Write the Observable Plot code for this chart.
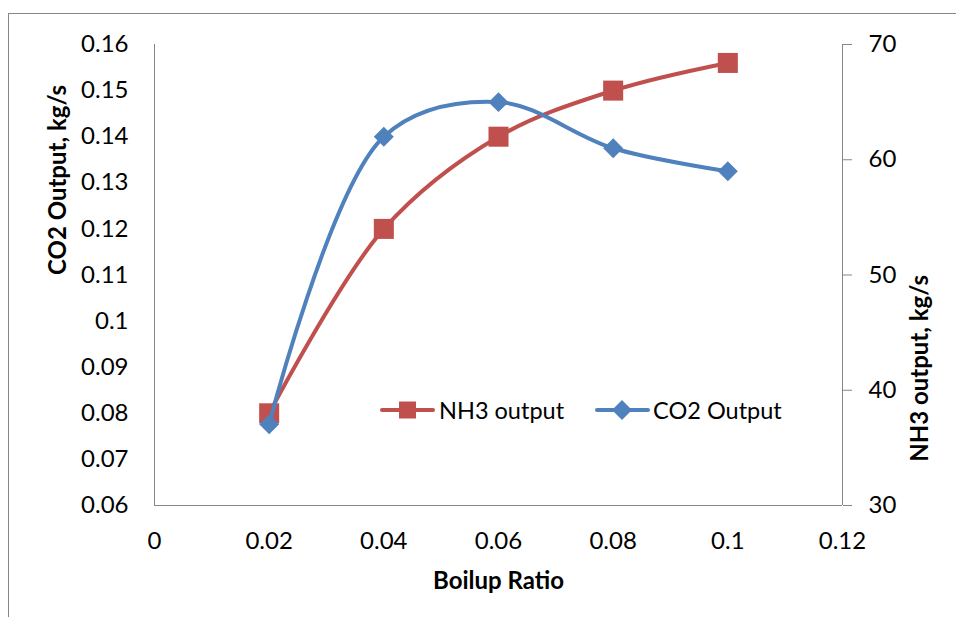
<!DOCTYPE html>
<html>
<head>
<meta charset="utf-8">
<script src="https://cdn.jsdelivr.net/npm/d3@7"></script>
<script src="https://cdn.jsdelivr.net/npm/@observablehq/plot@0.6"></script>
<style>
  html, body { margin: 0; padding: 0; background: #fff; }
  body { width: 956px; height: 617px; overflow: hidden; position: relative; font-family: Lato, "Open Sans", sans-serif; }
  #frame { position: absolute; left: 8px; top: 13px; width: 1000px; height: 700px; border: 1px solid #868686; box-sizing: border-box; }
  #chart { position: absolute; left: 0; top: 0; }
  #legend { position: absolute; left: 380px; top: 396px; height: 28px; display: flex; align-items: center; font-size: 23.5px; color: #000; }
  #legend .item { display: flex; align-items: center; }
  #legend svg { display: block; }
</style>
</head>
<body>
<div id="frame"></div>
<div id="chart"></div>
<div id="legend"></div>
<script>
// Boilup ratio (x) and the two outputs
const boilup = [0.02, 0.04, 0.06, 0.08, 0.1];
const nh3Output = [38, 54, 62, 66, 68.4];                  // kg/s, right axis
const co2Output = [0.0776, 0.14, 0.1475, 0.1375, 0.1325];  // kg/s, left axis

// Tick values
const xTicks = [0, 0.02, 0.04, 0.06, 0.08, 0.1, 0.12];
const co2Ticks = [0.06, 0.07, 0.08, 0.09, 0.1, 0.11, 0.12, 0.13, 0.14, 0.15, 0.16];
const nh3Ticks = [30, 40, 50, 60, 70];

const seriesNames = ["NH3 output", "CO2 Output"];
const red = "#C0504D";
const blue = "#4F81BD";
const axisGray = "#868686";

// NH3 lives on the secondary axis: map its domain onto the primary one
const toPrimary = d3.scaleLinear([30, 70], [0.06, 0.16]);

const nh3Data = boilup.map((x, i) => ({x, y: toPrimary(nh3Output[i])}));
const co2Data = boilup.map((x, i) => ({x, y: co2Output[i]}));

const fmt = d => String(+d.toFixed(2));

const chart = Plot.plot({
  width: 956,
  height: 617,
  marginLeft: 154,
  marginRight: 114,
  marginTop: 44,
  marginBottom: 112,
  style: {fontFamily: "Lato, 'Open Sans', sans-serif", fontSize: "24px", color: "#000", background: "transparent"},
  x: {domain: [0, 0.12]},
  y: {domain: [0.06, 0.16]},
  marks: [
    Plot.axisX(xTicks, {tickSize: 0, tickPadding: 26, tickFormat: fmt, label: null}),
    Plot.axisY(co2Ticks, {anchor: "left", tickSize: 0, tickPadding: 26, tickFormat: fmt, label: null}),
    Plot.axisY(nh3Ticks.map(toPrimary), {
      anchor: "right", tickSize: 9, tickPadding: 17, stroke: axisGray, fill: "#000",
      tickFormat: d => String(Math.round(toPrimary.invert(d))), label: null
    }),
    Plot.ruleX([0], {stroke: axisGray}),
    Plot.ruleX([0.12], {stroke: axisGray}),
    Plot.ruleY([0.06], {stroke: axisGray}),
    // axis titles
    Plot.text(["Boilup Ratio"], {frameAnchor: "bottom", dy: 83, fontWeight: "bold", fontSize: 24}),
    Plot.text(["CO2 Output, kg/s"], {frameAnchor: "left", dx: -96, rotate: -90, fontWeight: "bold", fontSize: 24}),
    Plot.text(["NH3 output, kg/s"], {frameAnchor: "right", dx: 78, rotate: -90, fontWeight: "bold", fontSize: 24}),
    // NH3 series
    Plot.line(nh3Data, {x: "x", y: "y", curve: "catmull-rom", stroke: red, strokeWidth: 4}),
    Plot.dot(nh3Data, {x: "x", y: "y", symbol: "square", r: 11.3, fill: red, stroke: "none"}),
    // CO2 series
    Plot.line(co2Data, {x: "x", y: "y", curve: "catmull-rom", stroke: blue, strokeWidth: 4}),
    Plot.dot(co2Data, {x: "x", y: "y", symbol: "diamond2", r: 9, fill: blue, stroke: "none"})
  ]
});
document.getElementById("chart").append(chart);

// Legend: line-with-marker swatches
const legend = d3.select("#legend");
const swatches = [
  {name: seriesNames[0], color: red, marker: "square", gap: 4, after: 31},
  {name: seriesNames[1], color: blue, marker: "diamond", gap: 3, after: 0}
];
for (const s of swatches) {
  const item = legend.append("div").attr("class", "item").style("margin-right", s.after + "px");
  const svg = item.append("svg").attr("width", 55).attr("height", 28);
  svg.append("line").attr("x1", 2).attr("x2", 53).attr("y1", 14).attr("y2", 14)
    .attr("stroke", s.color).attr("stroke-width", 4).attr("stroke-linecap", "round");
  if (s.marker === "square") {
    svg.append("rect").attr("x", 27.5 - 8.5).attr("y", 14 - 8.5).attr("width", 17).attr("height", 17).attr("fill", s.color);
  } else {
    svg.append("path").attr("d", "M27,4L37,14L27,24L17,14Z").attr("fill", s.color);
  }
  item.append("span").style("margin-left", s.gap + "px").text(s.name);
}
</script>
</body>
</html>
